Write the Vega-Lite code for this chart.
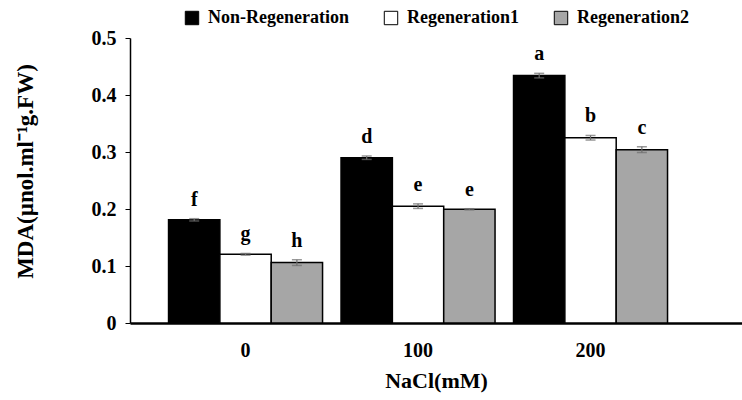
{
  "$schema": "https://vega.github.io/schema/vega-lite/v6.json",
  "autosize": "none",
  "width": 612,
  "height": 285,
  "padding": {"left": 130, "top": 38, "right": 0, "bottom": 77},
  "background": "white",
  "config": {
    "font": "Liberation Serif",
    "view": {"stroke": null},
    "text": {"font": "Liberation Serif"},
    "legend": {"labelFont": "Liberation Serif", "titleFont": "Liberation Serif"},
    "axis": {"labelFont": "Liberation Serif", "titleFont": "Liberation Serif", "labelFontWeight": "bold", "titleFontWeight": "bold", "labelColor": "black", "titleColor": "black", "grid": false, "domainColor": "black"}
  },
  "data": {
    "values": [
      {"nacl": "0", "cond": "Non-Regeneration", "value": 0.181, "lo": 0.179, "hi": 0.183, "letter": "f"},
      {"nacl": "0", "cond": "Regeneration1", "value": 0.1205, "lo": 0.119, "hi": 0.122, "letter": "g"},
      {"nacl": "0", "cond": "Regeneration2", "value": 0.106, "lo": 0.101, "hi": 0.111, "letter": "h"},
      {"nacl": "100", "cond": "Non-Regeneration", "value": 0.290, "lo": 0.287, "hi": 0.293, "letter": "d"},
      {"nacl": "100", "cond": "Regeneration1", "value": 0.205, "lo": 0.201, "hi": 0.209, "letter": "e"},
      {"nacl": "100", "cond": "Regeneration2", "value": 0.1995, "lo": 0.1985, "hi": 0.2005, "letter": "e"},
      {"nacl": "200", "cond": "Non-Regeneration", "value": 0.434, "lo": 0.430, "hi": 0.438, "letter": "a"},
      {"nacl": "200", "cond": "Regeneration1", "value": 0.325, "lo": 0.321, "hi": 0.329, "letter": "b"},
      {"nacl": "200", "cond": "Regeneration2", "value": 0.304, "lo": 0.299, "hi": 0.309, "letter": "c"}
    ]
  },
  "encoding": {
    "x": {
      "field": "nacl", "type": "nominal", "sort": ["0", "100", "200"],
      "scale": {"paddingInner": 0, "paddingOuter": 0.274, "align": 0.31},
      "axis": {"title": "NaCl(mM)", "labelAngle": 0, "labelFont": "Liberation Serif", "titleFont": "Liberation Serif", "labelFontSize": 20, "titleFontSize": 22, "ticks": false, "labelPadding": 17, "titlePadding": 10, "domainWidth": 2.5}
    },
    "xOffset": {
      "field": "cond", "type": "nominal", "sort": ["Non-Regeneration", "Regeneration1", "Regeneration2"],
      "scale": {"paddingInner": 0, "paddingOuter": 0.18}
    }
  },
  "layer": [
    {
      "mark": {"type": "bar", "stroke": "black", "strokeWidth": 1.5},
      "encoding": {
        "y": {
          "field": "value", "type": "quantitative",
          "scale": {"domain": [0, 0.5], "nice": false},
          "axis": {"title": "MDA(µnol.ml⁻¹g.FW)", "format": ".1~f", "values": [0, 0.1, 0.2, 0.3, 0.4, 0.5], "labelFont": "Liberation Serif", "titleFont": "Liberation Serif", "labelFontSize": 20, "titleFontSize": 23, "titleY": 133, "tickSize": 5, "tickColor": "black", "labelPadding": 9, "titlePadding": 54, "domainWidth": 1.5}
        },
        "fill": {
          "field": "cond", "type": "nominal", "sort": ["Non-Regeneration", "Regeneration1", "Regeneration2"],
          "scale": {"domain": ["Non-Regeneration", "Regeneration1", "Regeneration2"], "range": ["#000000", "#ffffff", "#a6a6a6"]},
          "legend": {
            "title": null, "orient": "none", "direction": "horizontal", "legendX": 53, "legendY": -29,
            "symbolType": "square", "symbolSize": 180, "symbolStrokeColor": "black", "symbolStrokeWidth": 1, "symbolOpacity": 1,
            "labelFont": "Liberation Serif", "labelFontWeight": "bold", "labelFontSize": 18, "labelColor": "black",
            "columnPadding": 33, "labelOffset": 7, "labelLimit": 300
          }
        }
      }
    },
    {
      "mark": {"type": "rule", "color": "#6e6e6e", "strokeWidth": 1.2},
      "encoding": {"y": {"field": "lo", "type": "quantitative"}, "y2": {"field": "hi"}}
    },
    {
      "mark": {"type": "tick", "color": "#6e6e6e", "size": 10, "thickness": 1.5},
      "encoding": {"y": {"field": "lo", "type": "quantitative"}}
    },
    {
      "mark": {"type": "tick", "color": "#6e6e6e", "size": 10, "thickness": 1.5},
      "encoding": {"y": {"field": "hi", "type": "quantitative"}}
    },
    {
      "mark": {"type": "text", "font": "Liberation Serif", "fontWeight": "bold", "fontSize": 20, "baseline": "bottom", "dy": -9, "color": "black"},
      "encoding": {"y": {"field": "hi", "type": "quantitative"}, "text": {"field": "letter"}}
    }
  ]
}
